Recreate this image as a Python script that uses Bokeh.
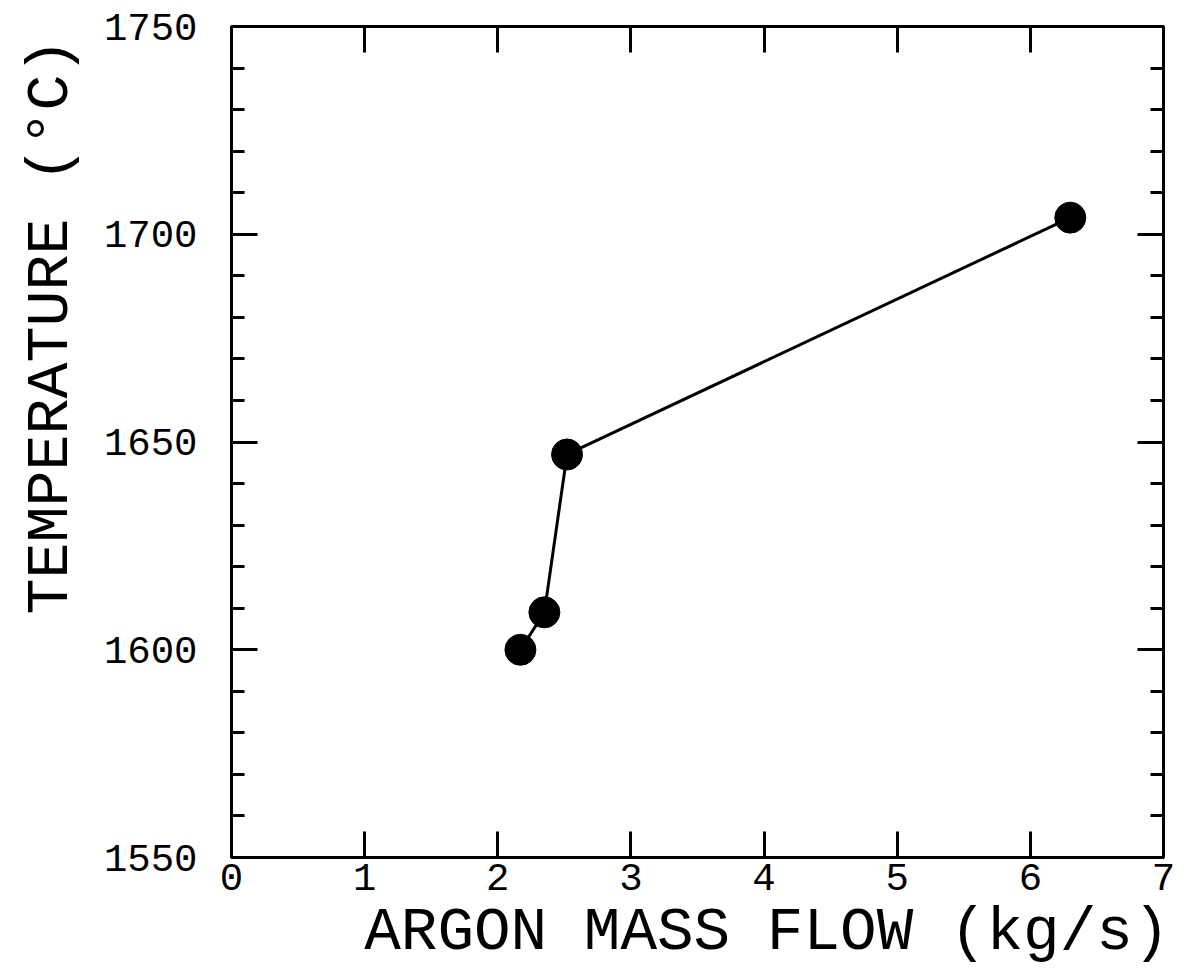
from bokeh.plotting import figure
from bokeh.models import LinearAxis, Range1d, FixedTicker, Title
from bokeh.embed import file_html
from bokeh.resources import INLINE

# Argon mass flow (kg/s) vs. measured temperature (°C)
flow = [2.17, 2.35, 2.52, 6.3]
temperature = [1600, 1609, 1647, 1704]

x_ticks = [0, 1, 2, 3, 4, 5, 6, 7]
y_ticks = [1550, 1600, 1650, 1700, 1750]
y_minor = [v for v in range(1550, 1751, 10) if v % 50 != 0]

x_title = "ARGON MASS FLOW (kg/s)"
y_title = "TEMPERATURE (°C)"

FONT = "Liberation Mono"

p = figure(
    width=1189, height=970,
    x_range=Range1d(0, 7), y_range=Range1d(1550, 1750),
    output_backend="svg", toolbar_location=None,
    x_axis_location=None, y_axis_location=None,
    min_border_left=231, min_border_right=26,
    min_border_top=26, min_border_bottom=113,
)
p.background_fill_color = "white"
p.border_fill_color = "white"
p.outline_line_color = "black"
p.outline_line_width = 3
p.xgrid.visible = False
p.ygrid.visible = False


def make_axis(ticks, minor, labels):
    ax = LinearAxis(ticker=FixedTicker(ticks=ticks, minor_ticks=minor))
    ax.axis_line_color = "black"
    ax.axis_line_width = 3
    ax.major_tick_line_color = "black"
    ax.major_tick_line_width = 3
    ax.major_tick_in = 26
    ax.major_tick_out = 0
    ax.minor_tick_line_color = "black"
    ax.minor_tick_line_width = 3
    ax.minor_tick_in = 13
    ax.minor_tick_out = 0
    if labels:
        ax.major_label_text_font = FONT
        ax.major_label_text_font_size = "39px"
        ax.major_label_text_color = "black"
    else:
        ax.major_label_text_font_size = "0px"
        ax.major_label_text_alpha = 0
    return ax


bottom = make_axis(x_ticks, [], True)
bottom.major_label_standoff = 6
top = make_axis(x_ticks, [], False)
left = make_axis(y_ticks, y_minor, True)
left.major_label_standoff = 34
right = make_axis(y_ticks, y_minor, False)

p.add_layout(bottom, "below")
p.add_layout(top, "above")
p.add_layout(left, "left")
p.add_layout(right, "right")

# connecting line and filled markers
p.line(flow, temperature, line_color="black", line_width=3)
p.scatter(flow, temperature, size=31, fill_color="black", line_color="black")

# axis titles
p.add_layout(Title(
    text=x_title, align="right", offset=-6, standoff=7,
    text_font=FONT, text_font_size="61px", text_color="black",
    text_font_style="normal",
), "below")
p.add_layout(Title(
    text=y_title, align="right", vertical_align="top", offset=12, standoff=28,
    text_font=FONT, text_font_size="60px", text_color="black",
    text_font_style="normal",
), "left")

open("out.html", "w").write(file_html(p, INLINE))
